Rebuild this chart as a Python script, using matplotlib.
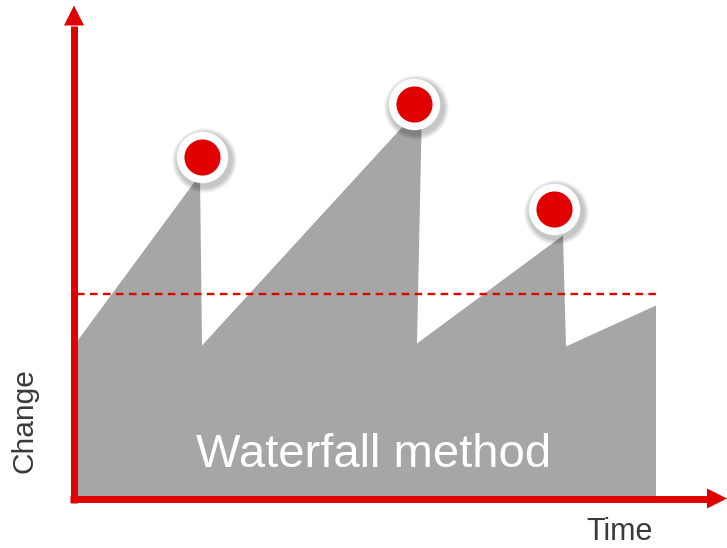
import matplotlib
matplotlib.use('Agg')
import matplotlib.pyplot as plt
from matplotlib.patches import Polygon

plt.rcParams['font.family'] = ['Liberation Sans', 'DejaVu Sans']

# sawtooth profile (time, change)
time = [0, 126, 128, 348, 343, 489, 492, 582]
change = [153, 324, 153, 393, 155, 263, 152, 193]

# peaks marked with dots
peak_t = [128, 340, 480]
peak_c = [342, 395, 290]

threshold = 205
t_end = 582

RED = '#E10000'
GRAY = '#A6A6A6'

fig = plt.figure(figsize=(7.27, 5.48), dpi=100)
ax = fig.add_axes([0, 0, 1, 1])
ax.set_xlim(-74, 653)
ax.set_ylim(-49.5, 498.5)
ax.axis('off')

# gray area down to the baseline
ax.fill(time + [t_end, 0], change + [0, 0], color=GRAY, lw=0, zorder=1)

# threshold line
ax.plot([3, t_end], [threshold, threshold], color=RED, lw=1.7,
        dashes=(3.2, 2.3), zorder=2)

# axes with arrow heads
top, right = 473, 633
ax.plot([0, 0], [-4, top], color=RED, lw=5, solid_capstyle='butt', zorder=3)
ax.plot([-4, right], [0, 0], color=RED, lw=5, solid_capstyle='butt', zorder=3)
ax.add_patch(Polygon([(-10, top), (10, top), (0, top + 20)], closed=True,
                     color=RED, lw=0, zorder=3))
ax.add_patch(Polygon([(right, -10), (right, 10), (right + 20, 0)], closed=True,
                     color=RED, lw=0, zorder=3))

# soft shadow under the dots
pt = [t + 2 for t in peak_t]
pc = [c - 3 for c in peak_c]
for k in range(6):
    ax.scatter(pt, pc, s=(40 + k * 1.3) ** 2, color='black', alpha=0.04,
               lw=0, zorder=4)
ax.scatter(peak_t, peak_c, s=37 ** 2, color='white', lw=0, zorder=5)
ax.scatter(peak_t, peak_c, s=26 ** 2, color=RED, lw=0, zorder=6)

ax.text(300, 31.5, 'Waterfall method', color='white', fontsize=34,
        ha='center', va='baseline', zorder=7)
ax.text(-50, 78, 'Change', color='#3a3a3a', fontsize=21.5, rotation=90,
        ha='center', va='center')
ax.text(546, -48.5, 'Time', color='#3a3a3a', fontsize=22,
        ha='center', va='bottom')

fig.savefig('out.png', dpi=100)
